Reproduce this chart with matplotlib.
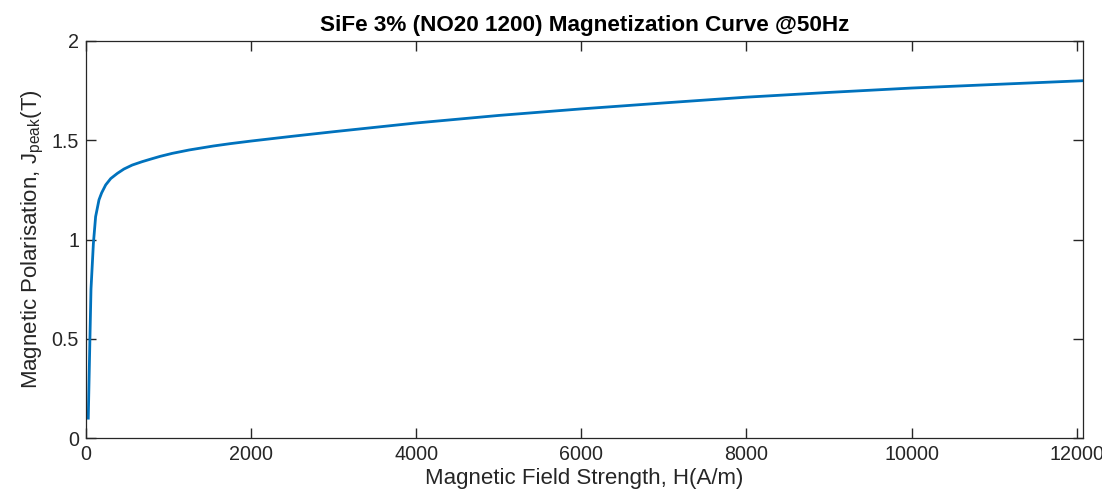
import numpy as np
import matplotlib
matplotlib.use("Agg")
import matplotlib.pyplot as plt

# === Magnetization curve (H in A/m, J in T) ===
H = [28, 48, 61, 90, 117, 158, 190, 239, 300, 380, 460, 560, 680, 784, 900,
     1046, 1250, 1543, 1750, 2000, 2500, 3000, 4000, 5000, 6000, 7000, 8000,
     9000, 10000, 11000, 12080]
J = [0.10, 0.50, 0.75, 0.98, 1.115, 1.20, 1.235, 1.275, 1.307, 1.333, 1.355,
     1.375, 1.392, 1.405, 1.419, 1.434, 1.451, 1.471, 1.483, 1.496, 1.520,
     1.543, 1.587, 1.625, 1.658, 1.688, 1.717, 1.741, 1.763, 1.781, 1.80]

x_ticks = [0, 2000, 4000, 6000, 8000, 10000, 12000]
y_ticks = [0, 0.5, 1, 1.5, 2]
y_ticklabels = ["0", "0.5", "1", "1.5", "2"]

plt.rcParams['font.family'] = ['Liberation Sans', 'DejaVu Sans']
plt.rcParams['mathtext.fontset'] = 'custom'
plt.rcParams['mathtext.rm'] = 'Liberation Sans'
plt.rcParams['mathtext.it'] = 'Liberation Sans'

axis_col = (0.15, 0.15, 0.15)

fig = plt.figure(figsize=(11.02, 5.0), dpi=100)
ax = fig.add_axes([0.078, 0.124, 0.905, 0.794])

ax.plot(H, J, color="#0072BD", lw=2.0, solid_joinstyle='round')

ax.set_xlim(0, 12080)
ax.set_ylim(0, 2)
ax.set_xticks(x_ticks)
ax.set_xticklabels([str(t) for t in x_ticks])
ax.set_yticks(y_ticks)
ax.set_yticklabels(y_ticklabels)

ax.tick_params(axis='both', direction='in', length=7, width=1.0, color=axis_col,
               labelsize=14.2, labelcolor=axis_col, top=True, right=True, pad=5)
for s in ax.spines.values():
    s.set_color(axis_col)
    s.set_linewidth(0.9)

ax.set_xlabel("Magnetic Field Strength, H(A/m)", fontsize=16, color=axis_col, labelpad=3)
ax.set_ylabel(r"Magnetic Polarisation, J$_{\mathrm{peak}}$(T)", fontsize=16, color=axis_col, labelpad=4)
ax.set_title("SiFe 3% (NO20 1200) Magnetization Curve @50Hz", fontsize=16.2,
             fontweight='bold', color='black', pad=7)

fig.savefig("out.png", dpi=100)
